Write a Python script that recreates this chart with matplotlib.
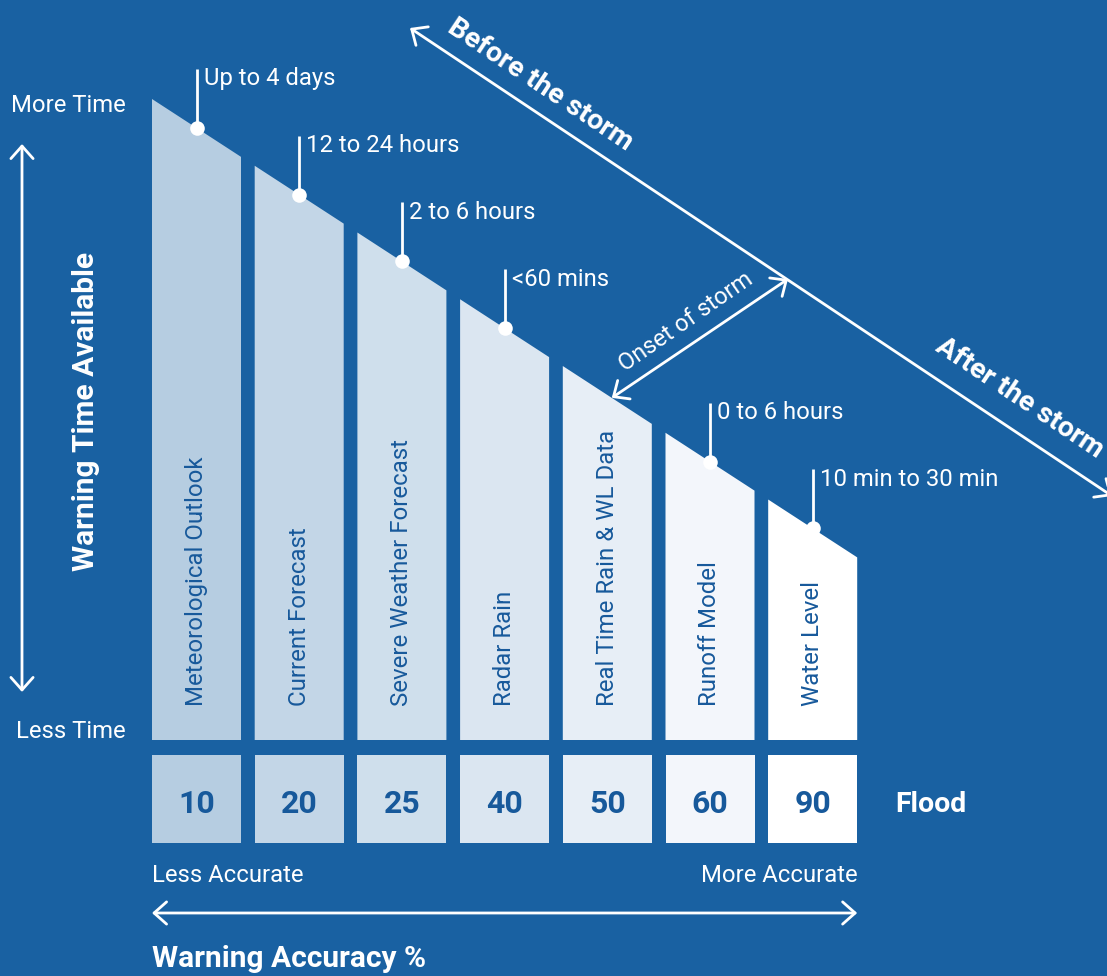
#!/usr/bin/env python3
"""Flood warning staircase: warning time available vs. warning accuracy."""

import matplotlib

matplotlib.use("Agg")
import matplotlib.pyplot as plt  # noqa: E402
from matplotlib.patches import Polygon, Rectangle  # noqa: E402

# --------------------------------------------------------------------------- #
# Data
# --------------------------------------------------------------------------- #
categories = [
    "Meteorological Outlook",
    "Current Forecast",
    "Severe Weather Forecast",
    "Radar Rain",
    "Real Time Rain & WL Data",
    "Runoff Model",
    "Water Level",
]
accuracy = [10, 20, 25, 40, 50, 60, 90]
lead_times = [
    "Up to 4 days",
    "12 to 24 hours",
    "2 to 6 hours",
    "<60 mins",
    None,  # onset of storm marked with an arrow instead
    "0 to 6 hours",
    "10 min to 30 min",
]
onset_index = 4

# --------------------------------------------------------------------------- #
# Style / layout (pixel space of a 1107x976 canvas)
# --------------------------------------------------------------------------- #
BG = "#1961a2"
TEXT_BLUE = "#17599b"
SHADES = ["#b6cde1", "#c3d6e7", "#cfdfec", "#dbe6f1", "#e7eef6", "#f3f6fb", "#ffffff"]
FONT = "Roboto"

X0, PITCH, WIDTH = 152, 102.7, 89
TOP0, SLOPE, BASE = 99, 0.65, 740
BOX_TOP, BOX_H = 755, 88


def top_y(x):
    """y of the sloping 'time available' line at canvas x."""
    return TOP0 + SLOPE * (x - X0)


fig = plt.figure(figsize=(11.07, 9.76), dpi=100)
fig.patch.set_facecolor(BG)
ax = fig.add_axes([0, 0, 1, 1])
ax.set_xlim(0, 1107)
ax.set_ylim(976, 0)
ax.axis("off")

arrow_kw = dict(arrowstyle="<->,head_length=0.45,head_width=0.4", color="white",
                lw=2, shrinkA=0, shrinkB=0, mutation_scale=20)

for i, (name, acc, lead, shade) in enumerate(zip(categories, accuracy, lead_times, SHADES)):
    left = X0 + i * PITCH
    right = left + WIDTH
    cx = left + WIDTH / 2

    # sloped bar
    ax.add_patch(Polygon([(left, BASE), (left, top_y(left)), (right, top_y(right)),
                          (right, BASE)], closed=True, facecolor=shade, edgecolor="none"))
    ax.text(cx, 706, name, rotation=90, ha="center", va="bottom",
            fontsize=17.3, color=TEXT_BLUE, family=FONT)

    # accuracy box
    ax.add_patch(Rectangle((left, BOX_TOP), WIDTH, BOX_H, facecolor=shade, edgecolor="none"))
    ax.text(cx, BOX_TOP + BOX_H / 2 + 5, str(acc), ha="center", va="center",
            fontsize=23, fontweight="bold", color=TEXT_BLUE, family=FONT)

    # lead-time marker
    if lead is not None:
        cy = top_y(cx)
        ax.plot([cx, cx], [cy, cy - 59], color="white", lw=2, solid_capstyle="butt")
        ax.scatter([cx], [cy], s=110, color="white", zorder=5, linewidths=0)
        ax.text(cx + 7, cy - 49, lead, ha="left", va="center", fontsize=17.2,
                color="white", family=FONT)

# onset of storm
onset_left = X0 + onset_index * PITCH
onset_x = onset_left + 49
ax.annotate("", xy=(onset_x, top_y(onset_x)), xytext=(788, 279), arrowprops=arrow_kw)
ax.text(686, 322, "Onset of storm", rotation=34.7, rotation_mode="anchor",
        ha="center", va="center", fontsize=17, color="white", family=FONT)

# before / after the storm
ax.annotate("", xy=(410, 28), xytext=(1112, 496), arrowprops=arrow_kw)
ax.text(540, 85, "Before the storm", rotation=-33.7, rotation_mode="anchor",
        ha="center", va="center", fontsize=20.5, fontweight="bold", color="white",
        family=FONT)
ax.text(1020, 398, "After the storm", rotation=-33.7, rotation_mode="anchor",
        ha="center", va="center", fontsize=20.5, fontweight="bold", color="white",
        family=FONT)

# warning time axis
ax.annotate("", xy=(22, 144), xytext=(22, 692), arrowprops=arrow_kw)
ax.text(126, 106, "More Time", ha="right", va="center", fontsize=17.2, color="white",
        family=FONT)
ax.text(126, 731, "Less Time", ha="right", va="center", fontsize=17.2, color="white",
        family=FONT)
ax.text(86, 411, "Warning Time Available", rotation=90, ha="center", va="center",
        fontsize=21.5, fontweight="bold", color="white", family=FONT)

# accuracy axis
right_edge = X0 + (len(categories) - 1) * PITCH + WIDTH
ax.annotate("", xy=(X0, 913), xytext=(right_edge, 913), arrowprops=arrow_kw)
ax.text(X0, 875, "Less Accurate", ha="left", va="center", fontsize=17.2, color="white",
        family=FONT)
ax.text(right_edge, 875, "More Accurate", ha="right", va="center", fontsize=17.2,
        color="white", family=FONT)
ax.text(X0, 959, "Warning Accuracy %", ha="left", va="center", fontsize=21.5,
        fontweight="bold", color="white", family=FONT)
ax.text(895, 804, "Flood", ha="left", va="center", fontsize=20.5, fontweight="bold",
        color="white", family=FONT)

fig.savefig("out.png", dpi=100, facecolor=BG)
